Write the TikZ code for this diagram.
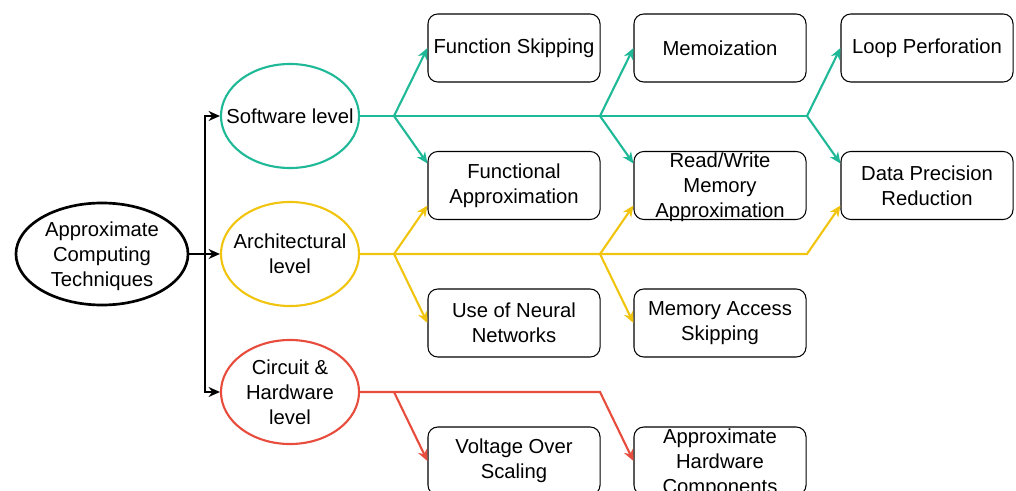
\documentclass[tikz,border=0pt]{standalone}
\usepackage{fontspec}
\setmainfont{Liberation Sans}
\usetikzlibrary{shapes.geometric,arrows.meta,calc}

\definecolor{swcolor}{RGB}{32,185,151}
\definecolor{archcolor}{RGB}{241,196,15}
\definecolor{hwcolor}{RGB}{231,76,60}

\newcommand{\tightlines}[1]{\makebox[0pt]{\raisebox{-0.35em}[0pt][0pt]{\begin{tabular}{@{}c@{}}#1\end{tabular}}}}

\tikzstyle{every node} = [font=\fontsize{14.4}{17.8}\selectfont]
\tikzstyle{main} = [ellipse, draw, line width=1.9pt, minimum width=4.3cm, minimum height=2.55cm, inner sep=0pt, align=center]
\tikzstyle{tier} = [ellipse, line width=1.5pt, minimum width=3.45cm, minimum height=2.6cm, inner sep=0pt, align=center]
\tikzstyle{technique} = [rectangle, draw, rounded corners=7pt, line width=0.75pt, minimum width=4.3cm, minimum height=1.7cm, inner sep=2pt, align=center]
\tikzstyle{trunk} = [line width=1.5pt]
\tikzstyle{link} = [trunk, -{Stealth[length=8pt,width=7pt,inset=2.5pt]}]
\tikzstyle{swlink} = [link, swcolor]
\tikzstyle{archlink} = [link, archcolor]
\tikzstyle{hwlink} = [link, hwcolor]

\begin{document}
\begin{tikzpicture}[x=0.025cm, y=-0.025cm]
\useasboundingbox (0,0) rectangle (1016,491);
\clip (0,0) rectangle (1016,491);

\node[main] (act) at (102,254) {\tightlines{Approximate\\Computing\\Techniques}};
\node[tier, draw=swcolor] (sw) at (290,116) {\tightlines{Software level}};
\node[tier, draw=archcolor] (arch) at (290,254) {\tightlines{Architectural\\level}};
\node[tier, draw=hwcolor] (hw) at (290,392) {\tightlines{Circuit \&\\Hardware\\level}};

\node[technique] (fs) at (514,48) {Function Skipping};
\node[technique] (mem) at (720,48) {Memoization};
\node[technique] (lp) at (927,48) {Loop Perforation};
\node[technique] (fa) at (514,185.5) {Functional\\Approximation};
\node[technique] (rw) at (720,185.5) {\tightlines{Read/Write\\Memory\\Approximation}};
\node[technique] (dp) at (927,185.5) {Data Precision\\Reduction};
\node[technique] (nn) at (514,323) {Use of Neural\\Networks};
\node[technique] (mas) at (720,323) {Memory Access\\Skipping};
\node[technique] (vos) at (514,461) {Voltage Over\\Scaling};
\node[technique] (ahc) at (720,461) {\tightlines{Approximate\\Hardware\\Components}};

\coordinate (split) at (205,254);
\coordinate (s1) at (394,116);
\coordinate (s2) at (600,116);
\coordinate (s3) at (807,116);
\coordinate (a1) at (394,254);
\coordinate (a2) at (600,254);
\coordinate (a3) at (807,254);
\coordinate (h1) at (394,392);
\coordinate (h2) at (600,392);

\draw[trunk] (act) -- (split);
\draw[link] (split) |- (sw);
\draw[link] (split) -- (arch);
\draw[link] (split) |- (hw);

\draw[trunk, swcolor] (sw) -- (s3);
\draw[swlink] (s1) -- (fs.west);
\draw[swlink] (s1) -- ($(fa.west)+(0,-22)$);
\draw[swlink] (s2) -- (mem.west);
\draw[swlink] (s2) -- ($(rw.west)+(0,-22)$);
\draw[swlink] (s3) -- (lp.west);
\draw[swlink] (s3) -- ($(dp.west)+(0,-22)$);

\draw[archlink] (arch) -- (a3) -- ($(dp.west)+(0,20)$);
\draw[archlink] (a1) -- ($(fa.west)+(0,20)$);
\draw[archlink] (a1) -- (nn.west);
\draw[archlink] (a2) -- ($(rw.west)+(0,20)$);
\draw[archlink] (a2) -- (mas.west);

\draw[hwlink] (hw) -- (h2) -- (ahc.west);
\draw[hwlink] (h1) -- (vos.west);
\end{tikzpicture}
\end{document}
